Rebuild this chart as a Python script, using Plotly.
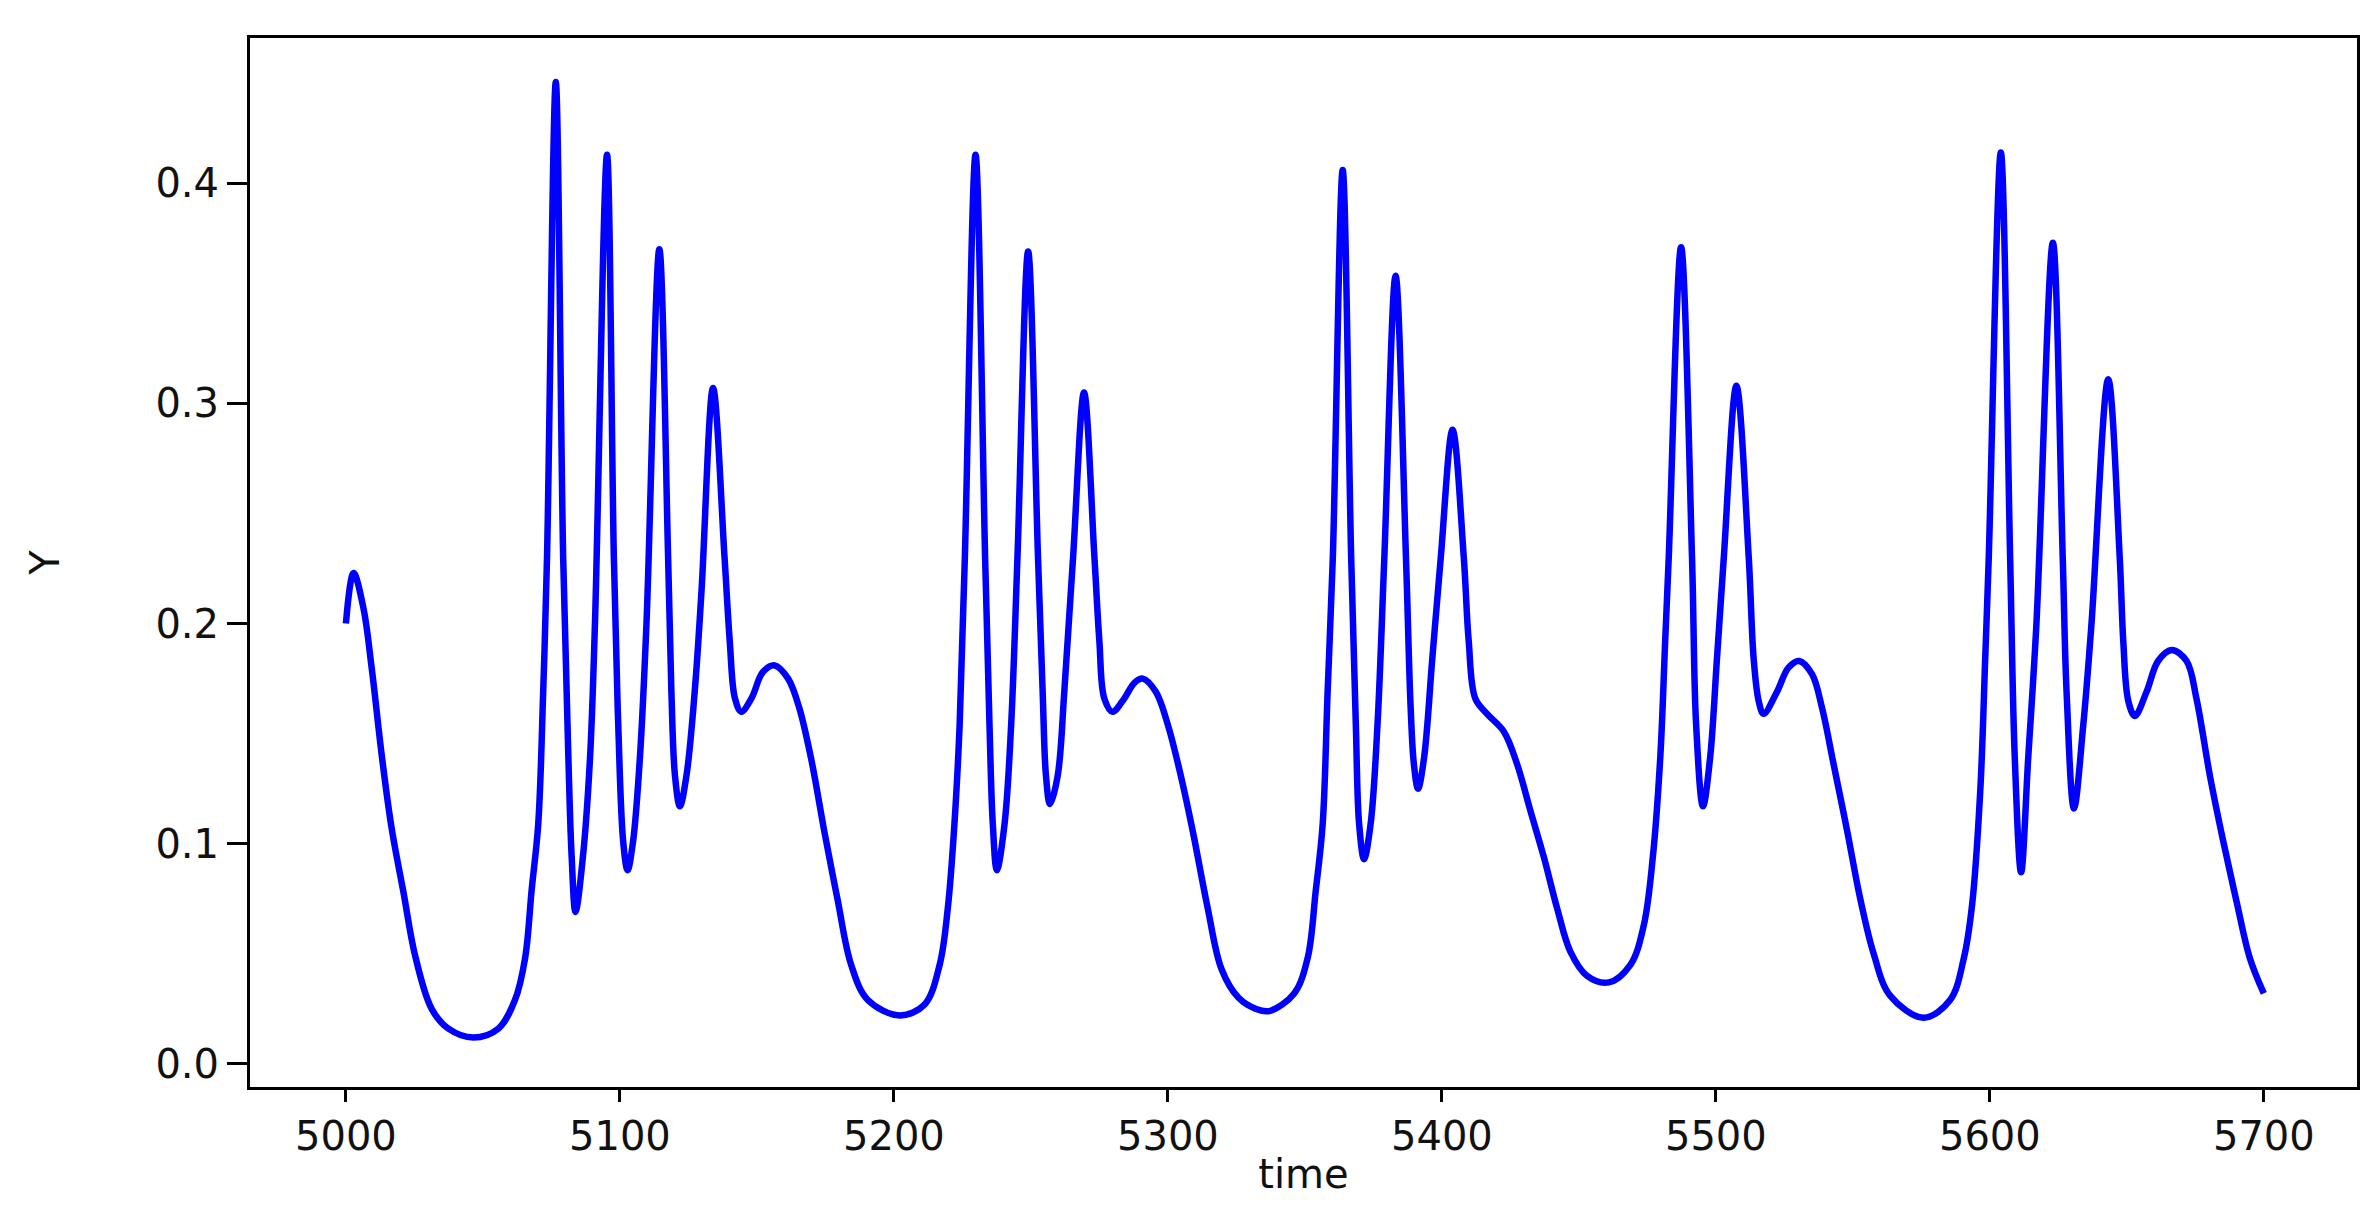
import plotly.graph_objects as go

# Values (time, Y)
time = [
    5000.0, 5002.8, 5006.4, 5009.4, 5013.1, 5016.7, 5021.0, 5025.3, 5031.3, 5037.4,
    5046.5, 5055.6, 5061.7, 5065.4, 5067.8, 5070.2, 5072.0, 5073.4, 5076.6,
    5079.3, 5081.2, 5082.4, 5083.8, 5086.5, 5089.1, 5090.9, 5095.3,
    5097.8, 5099.4, 5101.2, 5102.8, 5104.8, 5107.3, 5109.7, 5114.4,
    5117.6, 5118.8, 5120.1, 5121.9, 5124.3, 5127.3, 5129.8, 5134.0,
    5138.2, 5140.1, 5142.0, 5144.3, 5148.0, 5152.2, 5156.5, 5161.4, 5165.4, 5169.9,
    5174.7, 5179.4, 5184.4, 5190.5, 5202.1, 5211.2, 5216.7, 5219.7, 5222.1, 5224.0,
    5225.9, 5229.8,
    5233.3, 5234.9, 5236.1, 5237.6, 5240.4, 5242.8, 5245.1, 5249.0,
    5252.6, 5254.3, 5255.5, 5257.0, 5259.8, 5262.2, 5265.4, 5269.4,
    5273.2, 5275.0, 5276.8, 5279.8, 5284.1, 5287.7, 5290.8, 5295.6, 5300.0, 5304.7,
    5309.2, 5314.5, 5319.6, 5325.8, 5332.1, 5337.0, 5346.1, 5351.0, 5354.0, 5356.5,
    5358.3, 5360.2, 5363.8,
    5366.9, 5368.6, 5369.8, 5371.6, 5374.0, 5376.5, 5379.0, 5383.1,
    5386.9, 5388.6, 5389.8, 5391.3, 5393.5, 5396.5, 5399.6, 5403.9,
    5408.0, 5409.8, 5412.2, 5416.5, 5422.6, 5427.5, 5432.3, 5437.2, 5442.0, 5446.9,
    5453.0, 5460.9, 5468.8, 5473.7, 5477.0, 5479.7, 5481.5, 5482.8, 5487.3,
    5491.3, 5492.8, 5495.3, 5497.9, 5500.4, 5502.9, 5507.5,
    5512.0, 5513.8, 5515.6, 5517.4, 5522.3, 5526.5, 5530.4, 5535.1, 5538.7, 5543.0,
    5547.9, 5552.7, 5557.6, 5563.6, 5575.8, 5585.5, 5590.5, 5593.5, 5596.5, 5598.3,
    5599.6, 5604.0,
    5607.4, 5609.1, 5611.4, 5614.0, 5617.0, 5623.0,
    5626.6, 5628.0, 5630.7, 5634.1, 5637.1, 5643.2,
    5647.4, 5648.7, 5650.5, 5652.9, 5657.2, 5661.4, 5666.4, 5671.8, 5675.4, 5680.3,
    5685.2, 5690.0, 5694.9, 5700.0,
]
Y = [
    0.200, 0.223, 0.207, 0.180, 0.140, 0.107, 0.078, 0.049, 0.025, 0.016,
    0.012, 0.016, 0.029, 0.048, 0.079, 0.109, 0.169, 0.230, 0.446,
    0.230, 0.139, 0.094, 0.069, 0.094, 0.139, 0.200, 0.413,
    0.230, 0.154, 0.101, 0.088, 0.101, 0.139, 0.200, 0.370,
    0.230, 0.169, 0.131, 0.117, 0.131, 0.169, 0.215, 0.307,
    0.230, 0.192, 0.166, 0.160, 0.166, 0.178, 0.181, 0.175, 0.162, 0.138,
    0.105, 0.075, 0.045, 0.029, 0.022, 0.027, 0.045, 0.071, 0.109, 0.154,
    0.230, 0.413,
    0.230, 0.154, 0.109, 0.088, 0.109, 0.154, 0.230, 0.369,
    0.230, 0.169, 0.131, 0.118, 0.131, 0.169, 0.230, 0.305,
    0.230, 0.192, 0.166, 0.160, 0.166, 0.173, 0.175, 0.169, 0.154, 0.131,
    0.105, 0.071, 0.043, 0.030, 0.025, 0.024, 0.032, 0.048, 0.079, 0.109,
    0.169, 0.230, 0.406,
    0.230, 0.154, 0.109, 0.093, 0.109, 0.154, 0.230, 0.358,
    0.230, 0.162, 0.136, 0.125, 0.139, 0.184, 0.230, 0.288,
    0.230, 0.192, 0.166, 0.159, 0.151, 0.136, 0.115, 0.094, 0.071, 0.051,
    0.040, 0.037, 0.045, 0.063, 0.094, 0.139, 0.192, 0.230, 0.371,
    0.230, 0.154, 0.117, 0.139, 0.184, 0.230, 0.308,
    0.230, 0.184, 0.165, 0.159, 0.169, 0.180, 0.183, 0.177, 0.162, 0.136,
    0.106, 0.075, 0.050, 0.031, 0.021, 0.029, 0.048, 0.072, 0.124, 0.184,
    0.230, 0.414,
    0.230, 0.139, 0.087, 0.139, 0.200, 0.373,
    0.230, 0.169, 0.116, 0.154, 0.200, 0.311,
    0.230, 0.192, 0.165, 0.158, 0.169, 0.183, 0.188, 0.183, 0.166, 0.131,
    0.101, 0.074, 0.048, 0.032,
]
x_ticks = [5000, 5100, 5200, 5300, 5400, 5500, 5600, 5700]
y_ticks = [0.0, 0.1, 0.2, 0.3, 0.4]
y_tick_labels = ["0.0", "0.1", "0.2", "0.3", "0.4"]

fig = go.Figure()
fig.add_trace(go.Scatter(
    x=time, y=Y, mode="lines",
    line=dict(color="#0000ff", width=6.5, shape="spline", smoothing=1.0),
    showlegend=False,
))

font = dict(family="DejaVu Sans", size=40, color="#111111")
fig.update_layout(
    width=2372, height=1208,
    margin=dict(l=242, r=23, t=30, b=129),
    paper_bgcolor="white", plot_bgcolor="white",
    font=font,
)
fig.update_xaxes(
    range=[4965, 5734], tickvals=x_ticks, ticks="outside", ticklen=12, tickwidth=3,
    tickcolor="black", showline=True, linecolor="black", linewidth=3, mirror=True,
    showgrid=False, zeroline=False, tickfont=font,
    title=dict(text="time", font=font, standoff=2),
)
fig.update_yaxes(
    range=[-0.0105, 0.466], tickvals=y_ticks, ticktext=y_tick_labels, ticks="outside",
    ticklen=20, tickwidth=3, tickcolor="black", showline=True, linecolor="black",
    linewidth=3, mirror=True, showgrid=False, zeroline=False, tickfont=font,
    title=dict(text="Y", font=font, standoff=84),
)
fig.write_html("out.html")
